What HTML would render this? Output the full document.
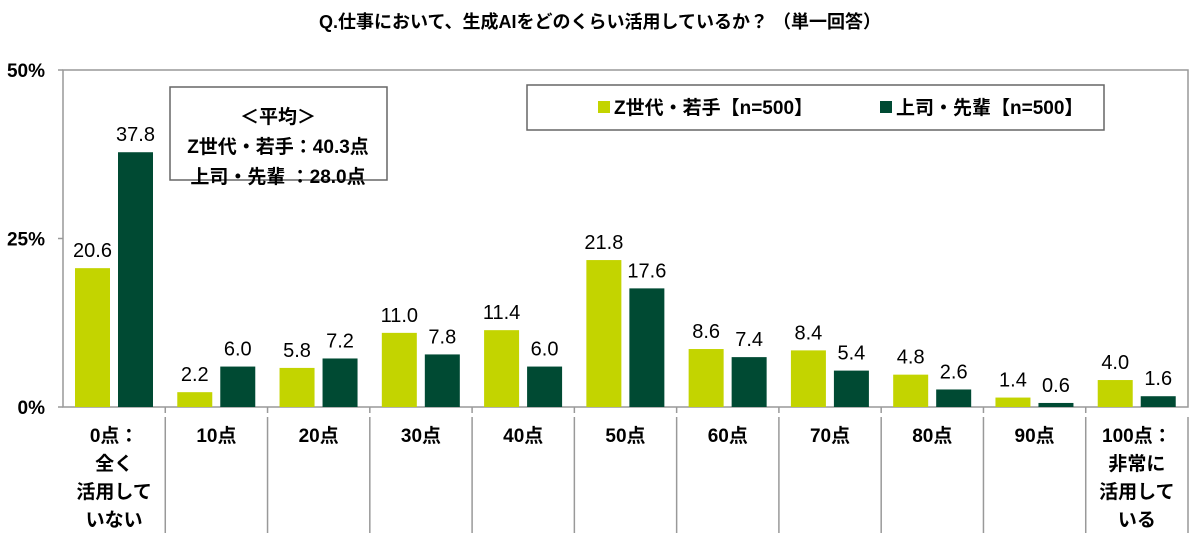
<!DOCTYPE html>
<html><head><meta charset="utf-8"><style>
body{margin:0;background:#fff;}
svg text{font-family:"Liberation Sans","Noto Sans CJK JP",sans-serif;font-weight:bold;}
</style></head><body>
<svg id="c" width="1200" height="533" xmlns="http://www.w3.org/2000/svg">
<text x="600" y="28" text-anchor="middle" font-size="18" fill="#000">Q.仕事において、生成AIをどのくらい活用しているか？ （単一回答）</text>
<rect x="63" y="70" width="1125" height="337" fill="none" stroke="#999" stroke-width="1.5"/>
<g id="bars"></g>
<rect x="170" y="87" width="217" height="93" fill="#fff" stroke="#666" stroke-width="1.5"/>
<text x="278" y="123" text-anchor="middle" font-size="19">＜平均＞</text>
<text x="278" y="153" text-anchor="middle" font-size="19">Z世代・若手：40.3点</text>
<text x="278" y="183" text-anchor="middle" font-size="19">上司・先輩 ：28.0点</text>
<rect x="527" y="85" width="577" height="45" fill="#fff" stroke="#666" stroke-width="1.5"/>
<rect x="598" y="101" width="12" height="12" fill="#c3d400"/>
<text x="614" y="114" font-size="19">Z世代・若手【n=500】</text>
<rect x="880" y="101" width="12" height="12" fill="#004a33"/>
<text x="896" y="114" font-size="19">上司・先輩【n=500】</text>
</svg>
<script>
const categories=[["0点：","全く","活用して","いない"],["10点"],["20点"],["30点"],["40点"],["50点"],["60点"],["70点"],["80点"],["90点"],["100点：","非常に","活用して","いる"]];
const genz=[20.6,2.2,5.8,11.0,11.4,21.8,8.6,8.4,4.8,1.4,4.0];
const boss=[37.8,6.0,7.2,7.8,6.0,17.6,7.4,5.4,2.6,0.6,1.6];
const yTicks=[0,25,50];
const NS="http://www.w3.org/2000/svg";
const svg=document.getElementById('c'),g=document.getElementById('bars');
const X0=63,X1=1188,Y0=407,Y1=70;
const cw=(X1-X0)/categories.length;
const y=v=>Y0-(v/50)*(Y0-Y1);
function mk(t,a,p){const e=document.createElementNS(NS,t);for(const k in a)e.setAttribute(k,a[k]);(p||g).appendChild(e);return e;}
yTicks.forEach(t=>{
 const l=mk('line',{x1:X0-5,x2:X0,y1:y(t),y2:y(t),stroke:'#999','stroke-width':1.5});
 
 
 const tx=mk('text',{x:45,y:y(t)+7,'text-anchor':'end','font-size':19});
 tx.textContent=t+'%';
 
 
});
categories.forEach((c,i)=>{
 const cx=X0+i*cw;
 if(i>0){
  const tk=mk('line',{x1:cx,x2:cx,y1:Y0,y2:Y0+6,stroke:'#999','stroke-width':1.5});
  
  
 }
 const sep=mk('line',{x1:cx+cw,x2:cx+cw,y1:417,y2:533,stroke:'#999','stroke-width':1.5});
 
 
 [[genz[i],'#c3d400',12,'genz'],[boss[i],'#004a33',55,'boss']].forEach(([v,col,off,s])=>{
  const r=mk('rect',{x:cx+off,y:y(v),width:35,height:Y0-y(v),fill:col});
  
  
  const t=mk('text',{x:cx+off+17.5,y:y(v)-11,'text-anchor':'middle','font-size':20});
  t.style.fontWeight='normal';
  t.textContent=v.toFixed(1);
  
  
 });
 c.forEach((ln,j)=>{
  const t=mk('text',{x:cx+cw/2,y:442+j*28,'text-anchor':'middle','font-size':19});
  t.textContent=ln;
  
  
 });
});
</script>
</body></html>
